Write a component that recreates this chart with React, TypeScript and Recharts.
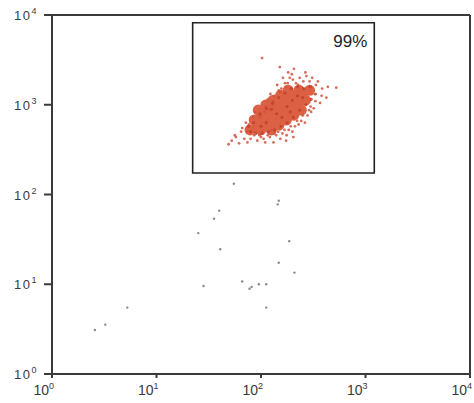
import { ScatterChart, Scatter, XAxis, YAxis, ReferenceArea, ReferenceLine } from 'recharts';

// all positions are log10 of fluorescence intensity (decades)
const decades = [0, 1, 2, 3, 4];
const gateLabel = '99%';

const coreX = [1.895, 1.935, 1.966, 1.998, 1.974, 2.006, 2.037, 2.069, 2.1, 2.046, 2.078, 2.109, 2.141, 2.172, 2.117, 2.149, 2.18, 2.212, 2.243, 2.188, 2.22, 2.251, 2.283, 2.314, 2.26, 2.292, 2.323, 2.355, 2.386, 2.363, 2.394, 2.426, 2.465];
const coreY = [2.719, 2.83, 2.774, 2.719, 2.941, 2.886, 2.83, 2.775, 2.719, 2.996, 2.941, 2.885, 2.83, 2.774, 3.051, 2.996, 2.94, 2.885, 2.829, 3.106, 3.051, 2.995, 2.94, 2.884, 3.161, 3.106, 3.05, 2.995, 2.939, 3.162, 3.106, 3.051, 3.161];

const edgeX = [1.88, 1.93, 1.99, 2.05, 2.11, 2.17, 2.23, 2.29, 2.35, 2.41, 2.47, 2.52, 2.48, 2.43, 2.37, 2.31, 2.25, 2.19, 2.13, 2.07, 2.01, 1.95, 1.9, 2.05, 2.15, 2.25, 2.3, 2.1, 2.2, 2.35, 2.0, 2.28, 2.4];
const edgeY = [2.76, 2.8, 2.9, 2.96, 3.02, 3.08, 3.13, 3.18, 3.2, 3.18, 3.2, 3.12, 3.06, 3.0, 2.94, 2.86, 2.8, 2.76, 2.72, 2.7, 2.68, 2.68, 2.7, 2.8, 2.9, 2.98, 3.05, 2.95, 2.86, 3.1, 2.76, 2.92, 3.08];

const haloX = [1.72, 1.69, 1.76, 1.79, 1.81, 1.75, 1.84, 1.82, 1.87, 1.855, 1.9, 1.925, 1.885, 1.935, 1.87, 1.965, 1.94, 1.985, 1.99, 1.945, 2.0, 2.025, 2.045, 2.015, 2.035, 1.995, 2.065, 2.04, 2.085, 2.065, 2.1, 2.115, 2.07, 2.125, 2.09, 2.145, 2.13, 2.165, 2.17, 2.12, 2.185, 2.155, 2.205, 2.195, 2.225, 2.23, 2.18, 2.245, 2.21, 2.265, 2.255, 2.285, 2.275, 2.235, 2.3, 2.26, 2.325, 2.305, 2.345, 2.335, 2.295, 2.36, 2.315, 2.385, 2.37, 2.4, 2.405, 2.355, 2.42, 2.445, 2.435, 2.46, 2.465, 2.425, 2.48, 2.505, 2.49, 2.52, 2.525, 2.475, 2.565, 2.545, 2.58, 2.585, 2.625, 2.64, 2.72, 2.01, 2.18, 2.24, 2.31, 2.12];
const haloY = [2.6, 2.56, 2.64, 2.57, 2.7, 2.66, 2.62, 2.74, 2.58, 2.8, 2.62, 2.86, 2.78, 2.66, 2.7, 2.6, 2.92, 2.66, 2.86, 2.7, 2.64, 2.62, 2.98, 2.7, 2.92, 2.88, 2.66, 2.58, 2.64, 3.06, 2.72, 3.0, 2.95, 2.68, 3.12, 2.66, 3.1, 2.7, 3.16, 3.04, 2.62, 3.22, 2.68, 3.18, 2.72, 3.24, 3.14, 2.66, 3.3, 2.72, 3.24, 2.76, 3.3, 3.2, 2.7, 3.36, 2.76, 3.28, 2.82, 3.24, 3.34, 2.78, 3.4, 2.82, 3.3, 2.88, 3.26, 3.22, 2.8, 2.88, 3.32, 2.94, 3.26, 3.36, 2.92, 2.96, 3.3, 3.04, 3.22, 2.98, 3.02, 3.26, 3.1, 3.18, 3.08, 3.2, 3.19, 3.52, 3.42, 2.6, 2.64, 2.58];

const strayX = [0.41, 0.51, 0.72, 1.4, 1.55, 1.6, 1.61, 1.45, 1.82, 1.91, 1.89, 1.98, 2.05, 2.05, 2.17, 2.27, 2.16, 2.17, 2.32, 1.74];
const strayY = [0.49, 0.55, 0.74, 1.57, 1.73, 1.82, 1.39, 0.98, 1.03, 0.97, 0.95, 1.0, 1.0, 0.74, 1.24, 1.48, 1.89, 1.93, 1.13, 2.12];

const pairs = (xs: number[], ys: number[]) => xs.map((x, i) => ({ x, y: ys[i] }));
const coreData = pairs(coreX, coreY);
const edgeData = pairs(edgeX, edgeY);
const haloData = pairs(haloX, haloY);
const strayData = pairs(strayX, strayY);

const font = '"Liberation Sans", Arial, sans-serif';
const ink = '#3a3a3a';

const dot = (r: number, fill: string, opacity = 1) => (p: any) => (
    <circle cx={p.cx} cy={p.cy} r={r} fill={fill} fillOpacity={opacity} />
);

function XTick({ x, y, payload }: any) {
    return (
        <text x={x + 2} y={y + 15} textAnchor="end" fontFamily={font} fontSize={14} fill={ink}>
            10<tspan dy={-6} fontSize={9}>{payload.value}</tspan>
        </text>
    );
}

function YTick({ x, y, payload }: any) {
    return (
        <text x={x - 4} y={y + 5} textAnchor="end" fontFamily={font} fontSize={13} fill={ink} letterSpacing={1.5}>
            10<tspan dy={-6} fontSize={9}>{payload.value}</tspan>
        </text>
    );
}

function GateLabel({ viewBox }: any) {
    return (
        <text x={viewBox.x + viewBox.width - 7} y={viewBox.y + 24} textAnchor="end" fontFamily={font} fontSize={17} fill="#222">
            {gateLabel}
        </text>
    );
}

export default function App() {
    return (
        <div style={{ position: 'absolute', left: 0, top: 0, background: '#fff' }}>
            <ScatterChart width={474} height={403} margin={{ top: 15, right: 4, left: 4, bottom: 0 }}>
                <XAxis type="number" dataKey="x" domain={[0, 4]} ticks={decades} height={29}
                    stroke={ink} strokeWidth={2} tickSize={4} tickMargin={2} tick={<XTick />} allowDataOverflow />
                <YAxis type="number" dataKey="y" domain={[0, 4]} ticks={decades} width={48}
                    stroke={ink} strokeWidth={2} tickSize={8} tickMargin={2} tick={<YTick />} allowDataOverflow />
                <ReferenceLine y={4} stroke={ink} strokeWidth={2} />
                <ReferenceLine x={4} stroke={ink} strokeWidth={2} />
                <ReferenceArea x1={1.346} x2={3.084} y1={2.24} y2={3.914} fill="none" fillOpacity={0}
                    stroke="#222" strokeWidth={1.6} label={<GateLabel />} />
                <Scatter data={strayData} shape={dot(1.2, '#8a8a8a')} isAnimationActive={false} />
                <Scatter data={coreData} shape={dot(5.5, '#dc6044')} isAnimationActive={false} />
                <Scatter data={haloData} shape={dot(1.4, '#cf553f', 0.85)} isAnimationActive={false} />
                <Scatter data={edgeData} shape={dot(1.6, '#c2412c', 0.85)} isAnimationActive={false} />
            </ScatterChart>
        </div>
    );
}
